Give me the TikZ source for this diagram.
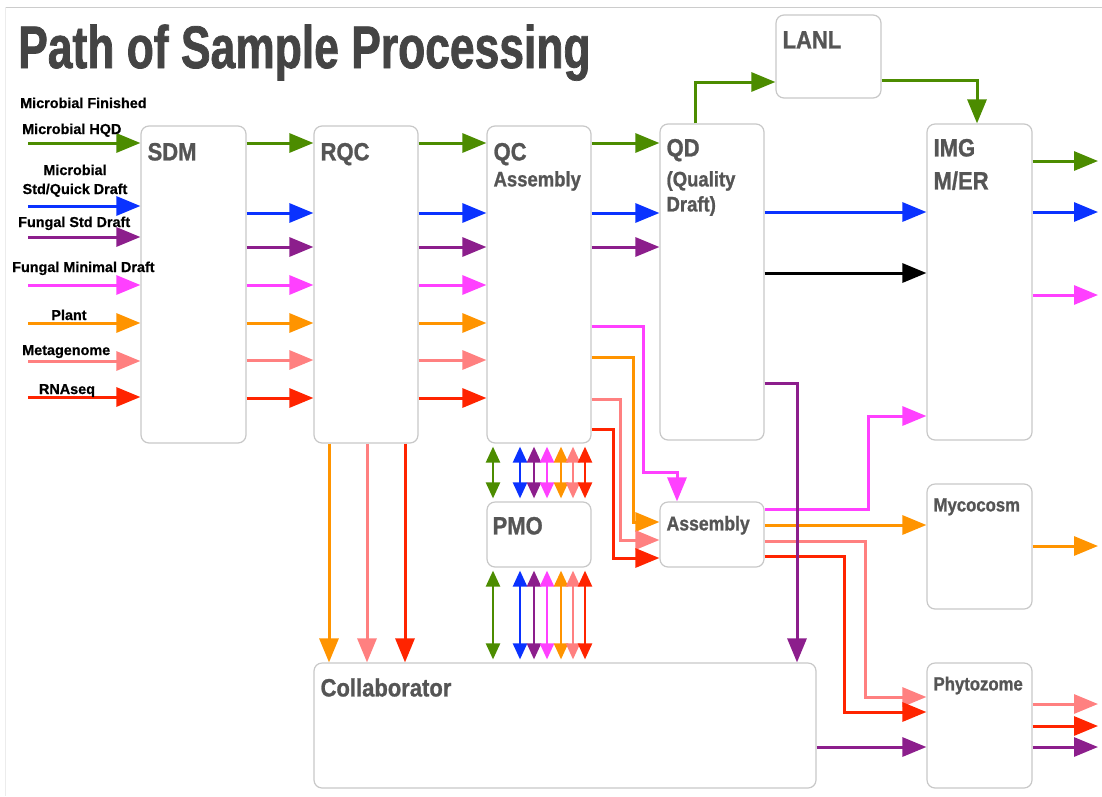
\documentclass[tikz,border=0pt]{standalone}
\usepackage{fontspec}
\setmainfont{Liberation Sans}[BoldFeatures={FakeBold=0.6}]
\newfontfamily\titlefont[FakeStretch=0.74, BoldFeatures={FakeBold=1.2}]{Liberation Sans}
\newfontfamily\boxfont[FakeStretch=0.88, BoldFeatures={FakeBold=1}]{Liberation Sans}
\usetikzlibrary{arrows.meta,positioning,calc}

\definecolor{cgreen}{RGB}{76,140,0}
\definecolor{cblue}{RGB}{10,50,255}
\definecolor{cpurple}{RGB}{140,30,140}
\definecolor{cmagenta}{RGB}{255,64,255}
\definecolor{corange}{RGB}{255,148,0}
\definecolor{csalmon}{RGB}{255,128,128}
\definecolor{cred}{RGB}{255,36,0}
\definecolor{boxgray}{RGB}{200,200,200}
\definecolor{labelgray}{RGB}{85,85,85}
\definecolor{titlegray}{RGB}{68,68,68}

\begin{document}
\begin{tikzpicture}[
    x=1pt, y=-1pt,
    block/.style={draw=boxgray, line width=1.2pt, rounded corners=8pt, fill=white, inner sep=0pt},
    edge/.style={-{Triangle[length=24pt,width=19pt]}, line width=3pt},
    pmoedge/.style={{Triangle[length=16pt,width=14pt]}-{Triangle[length=16pt,width=14pt]}, line width=2.4pt, shorten <=3pt, shorten >=3pt},
    boxtitle/.style={anchor=base west, inner sep=0pt, text=labelgray, font=\boxfont\bfseries\fontsize{25pt}{28pt}\selectfont},
    boxsub/.style={anchor=base west, inner sep=0pt, text=labelgray, font=\boxfont\bfseries\fontsize{21pt}{24pt}\selectfont},
    inlabel/.style={anchor=base west, inner sep=0pt, font=\bfseries\fontsize{14.4pt}{18pt}\selectfont},
    maintitle/.style={anchor=base west, inner sep=0pt, text=titlegray, font=\titlefont\bfseries\fontsize{60pt}{66pt}\selectfont},
]
\useasboundingbox (0,0) rectangle (1102,796);
\draw[gray!40, line width=1pt] (5,7) -- (1102,7);
\draw[gray!15, line width=1pt] (5,7) -- (5,796);

\node[maintitle] (title) at (18,68) {Path of Sample Processing};

% Processing stages
\node[block, minimum width=105pt, minimum height=317pt] (sdm) at (193.5,284.5) {};
\node[block, minimum width=104pt, minimum height=317pt] (rqc) at (366,284.5) {};
\node[block, minimum width=104pt, minimum height=317pt] (qc) at (539,284.5) {};
\node[block, minimum width=104pt, minimum height=316pt] (qd) at (712,282) {};
\node[block, minimum width=105pt, minimum height=83pt] (lanl) at (828.5,56.5) {};
\node[block, minimum width=105pt, minimum height=316pt] (img) at (979.5,282) {};
\node[block, minimum width=104pt, minimum height=65pt] (pmo) at (539,534.5) {};
\node[block, minimum width=104pt, minimum height=65pt] (asm) at (712,534.5) {};
\node[block, minimum width=105pt, minimum height=125pt] (myco) at (979.5,546.5) {};
\node[block, minimum width=105pt, minimum height=125pt] (phyto) at (979.5,725.5) {};
\node[block, minimum width=502pt, minimum height=125pt] (collab) at (565,725.5) {};

\node[boxtitle] at ($(sdm.north west)+(7,35)$) {SDM};
\node[boxtitle] at ($(rqc.north west)+(7,35)$) {RQC};
\node[boxtitle] at ($(qc.north west)+(7,35)$) {QC};
\node[boxsub] at ($(qc.north west)+(7,61)$) {Assembly};
\node[boxtitle] at ($(qd.north west)+(7,33)$) {QD};
\node[boxsub] at ($(qd.north west)+(7,63)$) {(Quality};
\node[boxsub] at ($(qd.north west)+(7,88)$) {Draft)};
\node[boxtitle] at ($(lanl.north west)+(7,34)$) {LANL};
\node[boxtitle] at ($(img.north west)+(7,33)$) {IMG};
\node[boxtitle] at ($(img.north west)+(7,66)$) {M/ER};
\node[boxtitle] at ($(pmo.north west)+(6,33)$) {PMO};
\node[boxsub, font=\boxfont\bfseries\fontsize{20pt}{24pt}\selectfont] at ($(asm.north west)+(7,29)$) {Assembly};
\node[boxsub, font=\boxfont\bfseries\fontsize{19pt}{24pt}\selectfont] at ($(myco.north west)+(7,28)$) {Mycocosm};
\node[boxsub, font=\boxfont\bfseries\fontsize{19pt}{24pt}\selectfont] at ($(phyto.north west)+(7,28)$) {Phytozome};
\node[boxtitle] at ($(collab.north west)+(7,34)$) {Collaborator};

% Sample types coming in
\coordinate (ingreen) at (28,143);
\coordinate (inblue) at (28,206);
\coordinate (inpurple) at (28,237);
\coordinate (inmagenta) at (28,285);
\coordinate (inorange) at (28,323);
\coordinate (insalmon) at (28,361);
\coordinate (inred) at (28,397);
\draw[edge, cgreen] (ingreen) -- (sdm.west |- ingreen);
\draw[edge, cblue] (inblue) -- (sdm.west |- inblue);
\draw[edge, cpurple] (inpurple) -- (sdm.west |- inpurple);
\draw[edge, cmagenta] (inmagenta) -- (sdm.west |- inmagenta);
\draw[edge, corange] (inorange) -- (sdm.west |- inorange);
\draw[edge, csalmon] (insalmon) -- (sdm.west |- insalmon);
\draw[edge, cred] (inred) -- (sdm.west |- inred);

\node[inlabel] (lfin) at (20,108) {Microbial Finished};
\node[inlabel] (lhqd) at (22,134) {Microbial HQD};
\node[inlabel, anchor=base] (lmic) at (75,175) {Microbial};
\node[inlabel, anchor=base] (lstd) at (75,194) {Std/Quick Draft};
\node[inlabel] (lfstd) at (18,227) {Fungal Std Draft};
\node[inlabel] (lfmin) at (12,272) {Fungal Minimal Draft};
\node[inlabel, anchor=base] (lplant) at (69,320) {Plant};
\node[inlabel] (lmeta) at (22,355) {Metagenome};
\node[inlabel, anchor=base] (lrna) at (67,394) {RNAseq};

% SDM -> RQC -> QC
\coordinate (rgreen) at (0,143);
\coordinate (rblue) at (0,213);
\coordinate (rpurple) at (0,247);
\coordinate (rmagenta) at (0,285);
\coordinate (rorange) at (0,323);
\coordinate (rsalmon) at (0,360);
\coordinate (rred) at (0,398);
\draw[edge, cgreen] (sdm.east |- rgreen) -- (rqc.west |- rgreen);
\draw[edge, cblue] (sdm.east |- rblue) -- (rqc.west |- rblue);
\draw[edge, cpurple] (sdm.east |- rpurple) -- (rqc.west |- rpurple);
\draw[edge, cmagenta] (sdm.east |- rmagenta) -- (rqc.west |- rmagenta);
\draw[edge, corange] (sdm.east |- rorange) -- (rqc.west |- rorange);
\draw[edge, csalmon] (sdm.east |- rsalmon) -- (rqc.west |- rsalmon);
\draw[edge, cred] (sdm.east |- rred) -- (rqc.west |- rred);
\draw[edge, cgreen] (rqc.east |- rgreen) -- (qc.west |- rgreen);
\draw[edge, cblue] (rqc.east |- rblue) -- (qc.west |- rblue);
\draw[edge, cpurple] (rqc.east |- rpurple) -- (qc.west |- rpurple);
\draw[edge, cmagenta] (rqc.east |- rmagenta) -- (qc.west |- rmagenta);
\draw[edge, corange] (rqc.east |- rorange) -- (qc.west |- rorange);
\draw[edge, csalmon] (rqc.east |- rsalmon) -- (qc.west |- rsalmon);
\draw[edge, cred] (rqc.east |- rred) -- (qc.west |- rred);

% RQC -> Collaborator
\draw[edge, corange] (rqc.south -| 329,0) -- (collab.north -| 329,0);
\draw[edge, csalmon] (rqc.south -| 367,0) -- (collab.north -| 367,0);
\draw[edge, cred] (rqc.south -| 405,0) -- (collab.north -| 405,0);

% QC <-> PMO <-> Collaborator
\draw[pmoedge, cgreen] (qc.south -| 493,0) -- (pmo.north -| 493,0);
\draw[pmoedge, cblue] (qc.south -| 520,0) -- (pmo.north -| 520,0);
\draw[pmoedge, cpurple] (qc.south -| 534,0) -- (pmo.north -| 534,0);
\draw[pmoedge, cmagenta] (qc.south -| 547,0) -- (pmo.north -| 547,0);
\draw[pmoedge, corange] (qc.south -| 561,0) -- (pmo.north -| 561,0);
\draw[pmoedge, csalmon] (qc.south -| 573,0) -- (pmo.north -| 573,0);
\draw[pmoedge, cred] (qc.south -| 585,0) -- (pmo.north -| 585,0);
\draw[pmoedge, cgreen] (pmo.south -| 493,0) -- (collab.north -| 493,0);
\draw[pmoedge, cblue] (pmo.south -| 520,0) -- (collab.north -| 520,0);
\draw[pmoedge, cpurple] (pmo.south -| 534,0) -- (collab.north -| 534,0);
\draw[pmoedge, cmagenta] (pmo.south -| 547,0) -- (collab.north -| 547,0);
\draw[pmoedge, corange] (pmo.south -| 561,0) -- (collab.north -| 561,0);
\draw[pmoedge, csalmon] (pmo.south -| 573,0) -- (collab.north -| 573,0);
\draw[pmoedge, cred] (pmo.south -| 585,0) -- (collab.north -| 585,0);

% QC -> QD and QC -> Assembly
\draw[edge, cgreen] (qc.east |- rgreen) -- (qd.west |- rgreen);
\draw[edge, cblue] (qc.east |- rblue) -- (qd.west |- rblue);
\draw[edge, cpurple] (qc.east |- rpurple) -- (qd.west |- rpurple);
\draw[edge, cmagenta] (qc.east |- 0,326) -| (643,472) -| (asm.north -| 677,0);
\draw[edge, corange] (qc.east |- 0,357) -| (633,522) -- (asm.west |- 0,522);
\draw[edge, csalmon] (qc.east |- 0,399) -| (620,540) -- (asm.west |- 0,540);
\draw[edge, cred] (qc.east |- 0,429) -| (613,558) -- (asm.west |- 0,558);

% QD -> LANL -> IMG
\draw[edge, cgreen] (qd.north -| 695,0) |- (lanl.west |- 0,82);
\draw[edge, cgreen] (lanl.east |- 0,80) -| (img.north -| 977,0);
\draw[edge, cblue] (qd.east |- 0,212) -- (img.west |- 0,212);
\draw[edge, black] (qd.east |- 0,273) -- (img.west |- 0,273);

% Assembly -> IMG, Mycocosm, Phytozome
\draw[edge, cmagenta] (asm.east |- 0,509) -| (868,416) -- (img.west |- 0,416);
\draw[edge, corange] (asm.east |- 0,525) -- (myco.west |- 0,525);
\draw[edge, csalmon] (asm.east |- 0,541) -| (865,697) -- (phyto.west |- 0,697);
\draw[edge, cred] (asm.east |- 0,556) -| (844,712) -- (phyto.west |- 0,712);

% QD -> Collaborator -> Phytozome
\draw[edge, cpurple] (qd.east |- 0,383) -| (collab.north -| 797,0);
\draw[edge, cpurple] (collab.east |- 0,747) -- (phyto.west |- 0,747);

% Outputs
\coordinate (imgout1) at (1098,161);
\coordinate (imgout2) at (1098,212);
\coordinate (imgout3) at (1098,295);
\coordinate (mycoout) at (1098,546);
\coordinate (phytoout1) at (1098,704);
\coordinate (phytoout2) at (1098,726);
\coordinate (phytoout3) at (1098,747);
\draw[edge, cgreen] (img.east |- imgout1) -- (imgout1);
\draw[edge, cblue] (img.east |- imgout2) -- (imgout2);
\draw[edge, cmagenta] (img.east |- imgout3) -- (imgout3);
\draw[edge, corange] (myco.east |- mycoout) -- (mycoout);
\draw[edge, csalmon] (phyto.east |- phytoout1) -- (phytoout1);
\draw[edge, cred] (phyto.east |- phytoout2) -- (phytoout2);
\draw[edge, cpurple] (phyto.east |- phytoout3) -- (phytoout3);

\end{tikzpicture}
\end{document}
